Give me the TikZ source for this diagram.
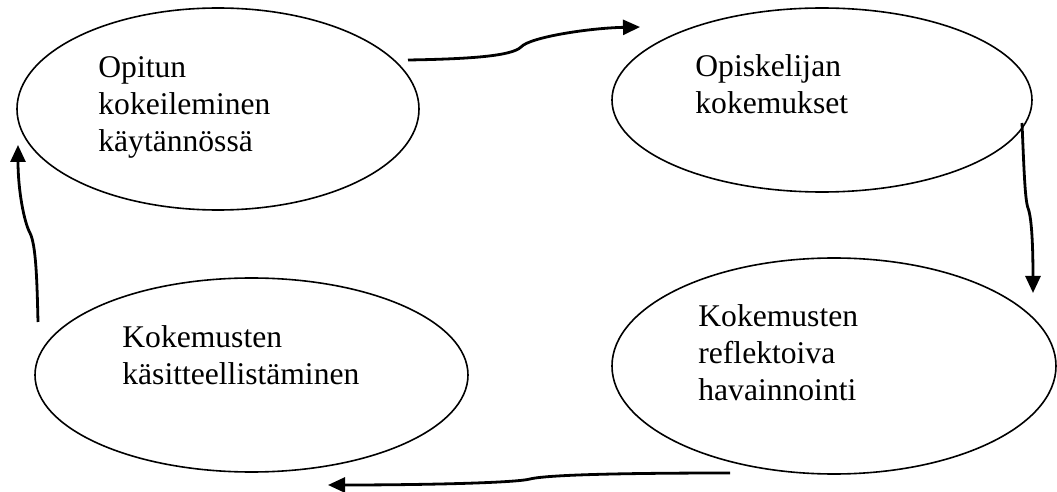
\documentclass[tikz,border=0pt]{standalone}
\usepackage{fontspec}
\setmainfont{Liberation Serif}
\usetikzlibrary{shapes.geometric,arrows.meta}

\begin{document}
\begin{tikzpicture}[x=0.5pt,y=-0.5pt,
  cycle/.style={draw, ellipse, line width=0.8pt, inner sep=0pt, outer sep=0pt},
  caption/.style={anchor=base west, inner sep=0pt, font=\fontsize{15.8}{18.5}\selectfont},
  flow/.style={line width=1.4pt, -{Triangle[length=8.5pt,width=7.5pt]}}]
\useasboundingbox (0,0) rectangle (1057,492);

% the four stages of the learning cycle
\node[cycle, minimum width=201pt, minimum height=101pt] (e1) at (218,109) {};
\node[cycle, minimum width=210pt, minimum height=92pt]  (e2) at (822,100) {};
\node[cycle, minimum width=216.5pt, minimum height=97pt] (e3) at (251.5,375) {};
\node[cycle, minimum width=222pt, minimum height=108pt] (e4) at (834,366) {};

% stage labels
\node[caption] (t1) at (98,78)  {\begin{tabular}[t]{@{}l@{}}Opitun\\kokeileminen\\käytännössä\end{tabular}};
\node[caption] (t2) at (695,77) {\begin{tabular}[t]{@{}l@{}}Opiskelijan\\kokemukset\end{tabular}};
\node[caption] (t3) at (122,348) {\begin{tabular}[t]{@{}l@{}}Kokemusten\\käsitteellistäminen\end{tabular}};
\node[caption] (t4) at (698,327) {\begin{tabular}[t]{@{}l@{}}Kokemusten\\reflektoiva\\havainnointi\end{tabular}};

% arrow ends
\coordinate (a1s) at (408,60);  \coordinate (a1e) at (640,27);
\coordinate (a2s) at (1022,123); \coordinate (a2e) at (1033,293);
\coordinate (a3s) at (730,473); \coordinate (a3e) at (328,485);
\coordinate (a4s) at (38,322);  \coordinate (a4e) at (18,145);

% connectors running clockwise round the cycle
\draw[flow] (a1s) .. controls (470,59) and (512,56) .. (521,47)
                  .. controls (530,37) and (590,28) .. (a1e);
\draw[flow] (a2s) .. controls (1024,170) and (1025,200) .. (1028,208)
                  .. controls (1032,218) and (1033,250) .. (a2e);
\draw[flow] (a3s) .. controls (650,473) and (550,474) .. (530,479)
                  .. controls (515,483) and (420,485) .. (a3e);
\draw[flow] (a4s) .. controls (37,280) and (36,245) .. (30,233)
                  .. controls (24,222) and (18,190) .. (a4e);
\end{tikzpicture}
\end{document}
